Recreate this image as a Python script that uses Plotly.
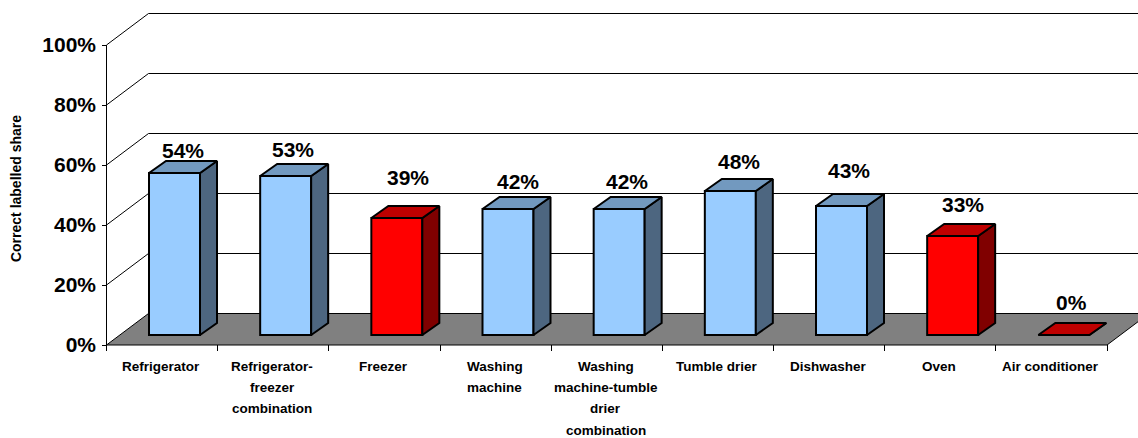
import plotly.graph_objects as go

# ---- data ----
categories = [
    ["Refrigerator"],
    ["Refrigerator-", "freezer", "combination"],
    ["Freezer"],
    ["Washing", "machine"],
    ["Washing", "machine-tumble", "drier", "combination"],
    ["Tumble drier"],
    ["Dishwasher"],
    ["Oven"],
    ["Air conditioner"],
]
values = [54, 53, 39, 42, 42, 48, 43, 33, 0]
highlighted = [False, False, True, False, False, False, False, True, True]
y_ticks = [0, 20, 40, 60, 80, 100]
y_title = "Correct labelled share"

# ---- style / layout constants (pixels -> data units) ----
PX_X = 111.17          # pixels per category
PX_Y = 3.0             # pixels per percent
FONT = "Liberation Sans, Arial, sans-serif"
WALL_DX, WALL_DY = 42 / PX_X, 31.5 / PX_Y
RIGHT = 9 + 31 / PX_X
BAR_BASE = 10 / PX_Y
BAR_W = 51 / PX_X
BAR_GAP = 42.5 / PX_X
DEPTH_X, DEPTH_Y = 17 / PX_X, 12 / PX_Y
LINE = dict(color="black", width=2)
BLUE = ("#99CCFF", "#7299BF", "#4D6680")
RED = ("#FF0000", "#BF0000", "#800000")
# hand-placed label lift above the bar's back edge (px) and sideways nudge (px)
label_lift = [11, 15, 29, 16, 16, 18, 24, 20, 21]
label_nudge = [0, -1, 3, 1, -1, 0, -1, 2, -1]

fig = go.Figure()

# floor, back-wall gridlines, wall slants
shapes = [
    dict(type="path", layer="below", xref="x", yref="y",
         path=f"M 0 0 L {WALL_DX} {WALL_DY} L {RIGHT} {WALL_DY} "
              f"L {RIGHT} {(RIGHT - 9) / WALL_DX * WALL_DY} L 9 0 Z",
         fillcolor="#808080", line=dict(width=0)),
]
for t in y_ticks:
    shapes.append(dict(type="line", layer="below", xref="x", yref="y",
                       x0=0, y0=t, x1=WALL_DX, y1=t + WALL_DY,
                       line=dict(color="black", width=1)))
    shapes.append(dict(type="line", layer="below", xref="x", yref="y",
                       x0=WALL_DX, y0=t + WALL_DY, x1=RIGHT, y1=t + WALL_DY,
                       line=dict(color="black", width=1)))
shapes += [
    dict(type="line", layer="below", xref="x", yref="y", x0=0, y0=0, x1=0, y1=100,
         line=dict(color="black", width=1)),
    dict(type="line", layer="below", xref="x", yref="y", x0=0, y0=0, x1=9, y1=0,
         line=dict(color="black", width=1)),
    dict(type="line", layer="below", xref="x", yref="y", x0=9, y0=0, x1=RIGHT,
         y1=(RIGHT - 9) / WALL_DX * WALL_DY, line=dict(color="black", width=1)),
]

# front faces
xs = [k + BAR_GAP + BAR_W / 2 for k in range(len(values))]
fig.add_trace(go.Bar(
    x=xs, y=values, base=BAR_BASE, width=BAR_W,
    marker=dict(color=[(RED if h else BLUE)[0] for h in highlighted], line=LINE),
    hoverinfo="skip", showlegend=False,
))

# top and side faces
for k, (v, h) in enumerate(zip(values, highlighted)):
    col = RED if h else BLUE
    x0, x1 = xs[k] - BAR_W / 2, xs[k] + BAR_W / 2
    top = BAR_BASE + v
    fig.add_trace(go.Scatter(
        x=[x1, x1 + DEPTH_X, x1 + DEPTH_X, x1, x1],
        y=[BAR_BASE, BAR_BASE + DEPTH_Y, top + DEPTH_Y, top, BAR_BASE],
        mode="lines", fill="toself", fillcolor=col[2], line=LINE,
        hoverinfo="skip", showlegend=False))
    fig.add_trace(go.Scatter(
        x=[x0, x1, x1 + DEPTH_X, x0 + DEPTH_X, x0],
        y=[top, top, top + DEPTH_Y, top + DEPTH_Y, top],
        mode="lines", fill="toself", fillcolor=col[1], line=LINE,
        hoverinfo="skip", showlegend=False))

annotations = []
# value labels
for k, v in enumerate(values):
    annotations.append(dict(
        x=xs[k] + DEPTH_X / 2, y=BAR_BASE + v + DEPTH_Y, xref="x", yref="y",
        text=f"{v}%", showarrow=False, xanchor="center", yanchor="middle",
        yshift=label_lift[k], xshift=label_nudge[k],
        font=dict(family=FONT, size=21, color="black", weight="bold")))
# category labels, one annotation per line
for k, lines in enumerate(categories):
    for i, line in enumerate(lines):
        annotations.append(dict(
            x=k + 0.5, y=0, xref="x", yref="y", text=line, showarrow=False,
            xanchor="center", yanchor="middle", xshift=-1, yshift=-21.5 - 21.2 * i,
            font=dict(family=FONT, size=13.5, color="black", weight="bold")))
# y title
annotations.append(dict(
    x=-0.04, y=52, xref="x", yref="y", xshift=-86, text=y_title, showarrow=False,
    textangle=-90, xanchor="center", yanchor="middle",
    font=dict(family=FONT, size=14, color="black", weight="bold")))

fig.update_layout(
    width=1138, height=438, paper_bgcolor="white", plot_bgcolor="white",
    margin=dict(l=102, r=0, t=13, b=87, pad=0),
    shapes=shapes, annotations=annotations, showlegend=False,
    xaxis=dict(range=[-4.5 / PX_X, RIGHT], tickvals=list(range(10)), showticklabels=False,
               ticks="inside", ticklen=6, tickcolor="black", tickwidth=1,
               showgrid=False, zeroline=False, showline=False),
    yaxis=dict(range=[-2, 332 / PX_Y], tickvals=y_ticks, ticktext=[f"{t}%" for t in y_ticks],
               ticks="inside", ticklen=5, tickcolor="black", tickwidth=1,
               ticklabelstandoff=5,
               tickfont=dict(family=FONT, size=21, color="black", weight="bold"),
               showgrid=False, zeroline=False, showline=False),
)

fig.write_html("out.html", config=dict(displayModeBar=False),
               post_script="document.body.style.margin='0';document.body.style.overflow='hidden';")
